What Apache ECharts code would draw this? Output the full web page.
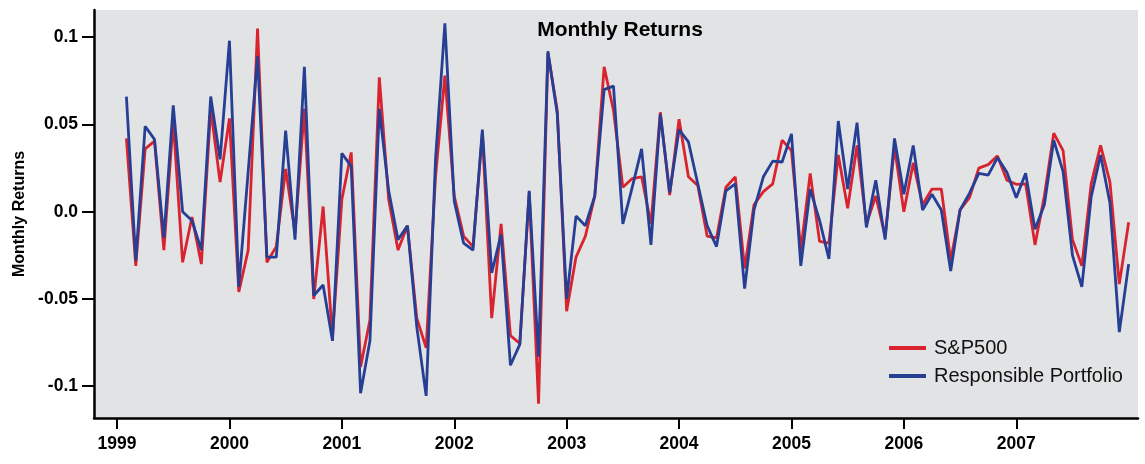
<!DOCTYPE html>
<html>
<head>
<meta charset="utf-8">
<title>Monthly Returns</title>
<script src="https://cdn.jsdelivr.net/npm/echarts@6/dist/echarts.min.js"></script>
<style>
  html, body { margin: 0; padding: 0; background: #fff; }
  #main { width: 1145px; height: 464px; }
</style>
</head>
<body>
<div id="main"></div>
<script>
// monthly returns, Feb 1999 .. Jan 2008
const spReturns = [
  0.042, -0.031, 0.036, 0.0405, -0.022, 0.052, -0.029, -0.003, -0.030, 0.059, 0.017,
  0.0535, -0.046, -0.022, 0.105, -0.029, -0.020, 0.0245, -0.012, 0.059, -0.050, 0.003, -0.072,
  0.007, 0.034, -0.089, -0.062, 0.077, 0.007, -0.022, -0.008, -0.061, -0.078, 0.020, 0.078,
  0.009, -0.014, -0.020, 0.045, -0.061, -0.007, -0.071, -0.0755, 0.011, -0.110, 0.091, 0.058,
  -0.057, -0.026, -0.014, 0.009, 0.083, 0.058, 0.014, 0.019, 0.020, -0.007, 0.057, 0.0096,
  0.053, 0.020, 0.015, -0.014, -0.015, 0.014, 0.020, -0.0325, 0.004, 0.0115, 0.016, 0.041,
  0.035, -0.022, 0.022, -0.017, -0.018, 0.0325, 0.002, 0.038, -0.007, 0.009, -0.014, 0.037,
  0.000, 0.028, 0.004, 0.013, 0.013, -0.028, 0.001, 0.008, 0.025, 0.027, 0.032, 0.018,
  0.0157, 0.016, -0.019, 0.009, 0.045, 0.035, -0.016, -0.031, 0.016, 0.038, 0.017, -0.0415,
  -0.006
];
const portfolioReturns = [
  0.066, -0.028, 0.049, 0.0415, -0.015, 0.061, 0.000, -0.005, -0.022, 0.066, 0.030,
  0.098, -0.043, 0.023, 0.089, -0.026, -0.026, 0.0465, -0.016, 0.083, -0.048, -0.042, -0.074,
  0.0335, 0.026, -0.104, -0.074, 0.059, 0.012, -0.016, -0.008, -0.066, -0.1055, 0.030, 0.108,
  0.006, -0.018, -0.022, 0.047, -0.035, -0.013, -0.088, -0.076, 0.012, -0.083, 0.092, 0.056,
  -0.050, -0.0025, -0.008, 0.009, 0.070, 0.072, -0.007, 0.014, 0.036, -0.019, 0.056, 0.011,
  0.047, 0.040, 0.016, -0.008, -0.020, 0.012, 0.016, -0.044, 0.001, 0.020, 0.029, 0.0285,
  0.0446, -0.031, 0.013, -0.005, -0.027, 0.052, 0.013, 0.051, -0.009, 0.018, -0.016, 0.042,
  0.010, 0.038, 0.001, 0.010, 0.001, -0.034, 0.001, 0.0105, 0.022, 0.021, 0.031, 0.0226,
  0.008, 0.022, -0.010, 0.004, 0.041, 0.023, -0.025, -0.043, 0.0086, 0.0325, 0.005, -0.069,
  -0.030
];
const startYear = 1999;
const startMonth = 2; // first observation: February 1999
const yearTicks = [1999, 2000, 2001, 2002, 2003, 2004, 2005, 2006, 2007];
const returnTicks = [-0.1, -0.05, 0, 0.05, 0.1];

const FONT = '"Liberation Sans", Arial, sans-serif';

function monthPos(i) {
  return startYear + (startMonth - 1 + i) / 12;
}

const spData = spReturns.map((v, i) => [monthPos(i), v]);
const portData = portfolioReturns.map((v, i) => [monthPos(i), v]);

const chart = echarts.init(document.getElementById('main'), null, { renderer: 'canvas' });

chart.setOption({
  animation: false,
  backgroundColor: '#ffffff',
  textStyle: { fontFamily: FONT },
  title: {
    text: 'Monthly Returns',
    left: 615,
    textAlign: 'center',
    top: 15,
    textStyle: { fontFamily: FONT, fontSize: 21, fontWeight: 'bold', color: '#000' }
  },
  legend: {
    orient: 'vertical',
    left: 884,
    top: 333,
    itemGap: 8,
    itemWidth: 37,
    itemHeight: 4,
    icon: 'rect',
    textStyle: { fontFamily: FONT, fontSize: 20, color: '#111', padding: [0, 0, 0, 3] },
    data: ['S&P500', 'Responsible Portfolio']
  },
  grid: {
    left: 94,
    right: 7,
    top: 10,
    bottom: 46,
    show: true,
    backgroundColor: '#e1e3e5',
    borderWidth: 0
  },
  xAxis: {
    type: 'value',
    min: 1998.795,
    max: 2008.083,
    splitLine: { show: false },
    axisLine: { show: true, onZero: false, lineStyle: { color: '#000', width: 2.5 } },
    axisTick: { show: true, length: 11, lineStyle: { color: '#000', width: 2 }, customValues: yearTicks },
    axisLabel: {
      customValues: yearTicks,
      margin: 17,
      fontFamily: FONT,
      fontSize: 17.5,
      fontWeight: 'bold',
      color: '#000',
      formatter: v => String(Math.round(v))
    }
  },
  yAxis: {
    type: 'value',
    min: -0.1182,
    max: 0.1156,
    name: 'Monthly Returns',
    nameLocation: 'middle',
    nameGap: 64,
    nameTextStyle: { fontFamily: FONT, fontSize: 16, fontWeight: 'bold', color: '#000' },
    splitLine: { show: false },
    axisLine: { show: true, onZero: false, lineStyle: { color: '#000', width: 2.5 } },
    axisTick: { show: true, length: 12, lineStyle: { color: '#000', width: 2 }, customValues: returnTicks },
    axisLabel: {
      customValues: returnTicks,
      margin: 16,
      fontFamily: FONT,
      fontSize: 17.5,
      fontWeight: 'bold',
      color: '#000',
      formatter: v => (v === 0 ? '0.0' : String(v))
    }
  },
  series: [
    {
      name: 'S&P500',
      type: 'line',
      data: spData,
      symbol: 'none',
      color: '#d9232e',
      lineStyle: { color: '#d9232e', width: 2.8 }
    },
    {
      name: 'Responsible Portfolio',
      type: 'line',
      data: portData,
      symbol: 'none',
      color: '#263f95',
      lineStyle: { color: '#263f95', width: 2.8 }
    }
  ]
});
</script>
</body>
</html>
